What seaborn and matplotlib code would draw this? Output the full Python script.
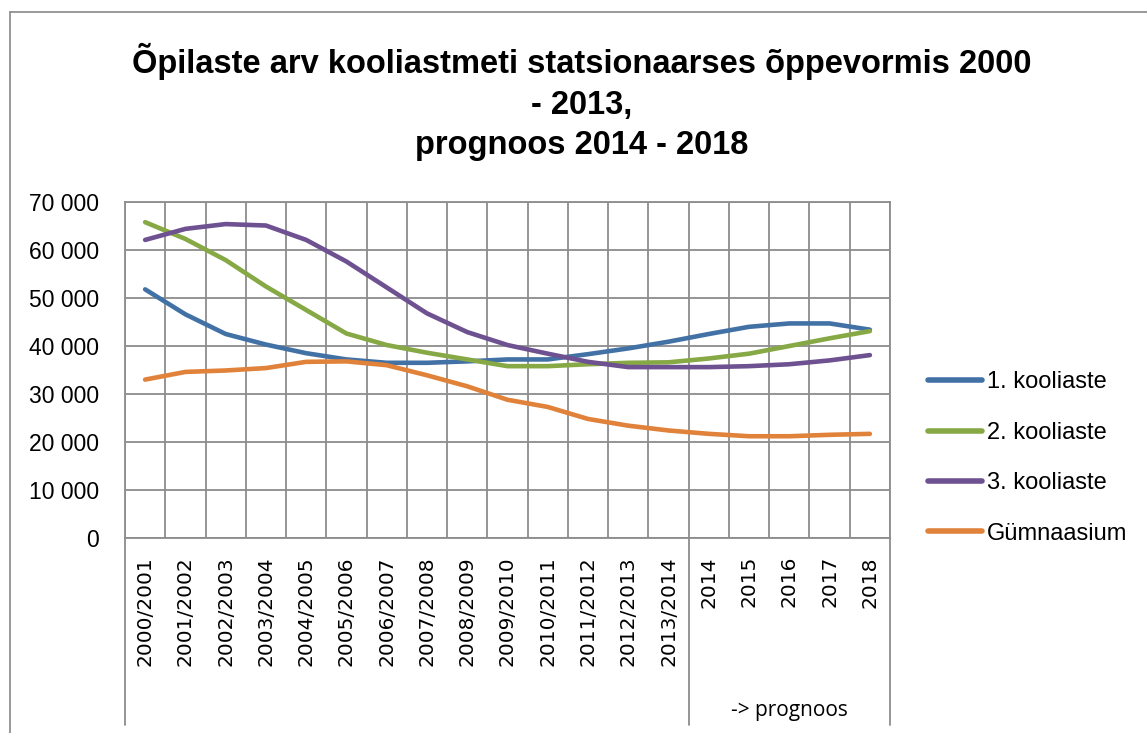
import numpy as np
import pandas as pd
import matplotlib
matplotlib.use("Agg")
import matplotlib.pyplot as plt
from matplotlib.ticker import FuncFormatter, FixedLocator
from matplotlib.lines import Line2D
import matplotlib.transforms as mtransforms
import seaborn as sns

categories = ["2000/2001", "2001/2002", "2002/2003", "2003/2004", "2004/2005",
              "2005/2006", "2006/2007", "2007/2008", "2008/2009", "2009/2010",
              "2010/2011", "2011/2012", "2012/2013", "2013/2014",
              "2014", "2015", "2016", "2017", "2018"]
kooliaste1 = [51800, 46600, 42500, 40300, 38500, 37200, 36500, 36500, 36800, 37200,
              37200, 38300, 39500, 40900, 42500, 44000, 44700, 44700, 43400]
kooliaste2 = [65800, 62300, 57900, 52400, 47500, 42600, 40200, 38600, 37200, 35800,
              35800, 36200, 36500, 36600, 37400, 38400, 40000, 41600, 43100]
kooliaste3 = [62100, 64400, 65400, 65100, 62100, 57600, 52200, 46800, 42900, 40200,
              38400, 36700, 35600, 35600, 35600, 35800, 36200, 37000, 38100]
gymnaasium = [33000, 34600, 34900, 35400, 36700, 36800, 36000, 33900, 31600, 28800,
              27300, 24800, 23400, 22400, 21700, 21200, 21200, 21500, 21700]
series_names = ["1. kooliaste", "2. kooliaste", "3. kooliaste", "Gümnaasium"]
group_labels = ["", "-> prognoos"]
title = "Õpilaste arv kooliastmeti statsionaarses õppevormis 2000\n- 2013,\nprognoos 2014 - 2018"

colors = ["#4271A6", "#86A845", "#6E5190", "#E0823A"]

rows = []
for name, vals in zip(series_names, [kooliaste1, kooliaste2, kooliaste3, gymnaasium]):
    for i, v in enumerate(vals):
        rows.append({"idx": i, "value": v, "series": name})
df = pd.DataFrame(rows)

sns.set_style("white")
plt.rcParams["font.family"] = ["Liberation Sans", "DejaVu Sans"]
plt.rcParams["text.color"] = "black"
plt.rcParams["xtick.color"] = "black"
plt.rcParams["ytick.color"] = "black"

fig = plt.figure(figsize=(11.47, 7.33), dpi=100)
L, R, B, T = 125 / 1147, 890 / 1147, (733 - 538) / 733, (733 - 202) / 733
ax = fig.add_axes([L, B, R - L, T - B])

sns.lineplot(data=df, x="idx", y="value", hue="series", palette=colors,
             hue_order=series_names, linewidth=3.3, ax=ax, legend=False,
             solid_capstyle="round")

n = len(categories)
ax.set_xlim(-0.5, n - 0.5)
ax.set_ylim(0, 70000)
ax.yaxis.set_major_locator(FixedLocator(np.arange(0, 70001, 10000)))
ax.yaxis.set_major_formatter(FuncFormatter(lambda v, p: f"{v:,.0f}".replace(",", " ")))

grid_c = "#8c8c8c"
ax.set_xticks(np.arange(n))
ax.set_xticklabels(categories, rotation=90, fontsize=14.5, family="DejaVu Sans",
                   va="top", ha="center", color="black")
ax.set_xticks(np.arange(n + 1) - 0.5, minor=True)
ax.tick_params(axis="x", which="major", length=0, pad=13)
ax.tick_params(axis="x", which="minor", length=106, width=1.3, color=grid_c, direction="out")
ax.tick_params(axis="y", which="major", length=6.5, width=1.3, color=grid_c,
               direction="out", pad=12, labelsize=16.5, labelcolor="black")
ax.grid(True, which="major", axis="y", color=grid_c, linewidth=1.3)
ax.grid(True, which="minor", axis="x", color=grid_c, linewidth=1.3)
ax.set_axisbelow(True)
for s in ["top", "right", "left", "bottom"]:
    ax.spines[s].set_visible(True)
    ax.spines[s].set_color(grid_c)
    ax.spines[s].set_linewidth(1.3)
ax.set_xlabel("")
ax.set_ylabel("")

# group separators in the category axis
trans = mtransforms.blended_transform_factory(ax.transData, ax.transAxes)
n_hist = 14
for xb in [-0.5, n_hist - 0.5, n - 0.5]:
    ax.add_line(Line2D([xb, xb], [0, -0.558], transform=trans, color=grid_c,
                       linewidth=1.3, clip_on=False))
ax.text((n_hist + n - 1) / 2, -0.512, group_labels[1], transform=trans,
        ha="center", va="center", fontsize=15, family="Open Sans", color="black")

# legend
handles = [Line2D([0], [0], color=c, linewidth=4, solid_capstyle="round") for c in colors]
leg = fig.legend(handles, series_names, loc="center left",
                 bbox_to_anchor=(928 / 1147, 1 - 458 / 733), frameon=False,
                 fontsize=17, handlelength=2.3, handletextpad=0.2, labelspacing=1.2,
                 borderaxespad=0, borderpad=0)
for t in leg.get_texts():
    t.set_color("black")

fig.text(0.507, 1 - 102 / 733, title, ha="center", va="center", fontsize=23.5,
         fontweight="bold", linespacing=1.38, color="black")

# chart frame
fx = 10 / 1147
fy = 1 - 12 / 733
fig.add_artist(Line2D([fx, 1.0], [fy, fy], transform=fig.transFigure, color="#888888", linewidth=1.2))
fig.add_artist(Line2D([fx, fx], [0, fy], transform=fig.transFigure, color="#888888", linewidth=1.2))

fig.savefig("out.png", dpi=100)
